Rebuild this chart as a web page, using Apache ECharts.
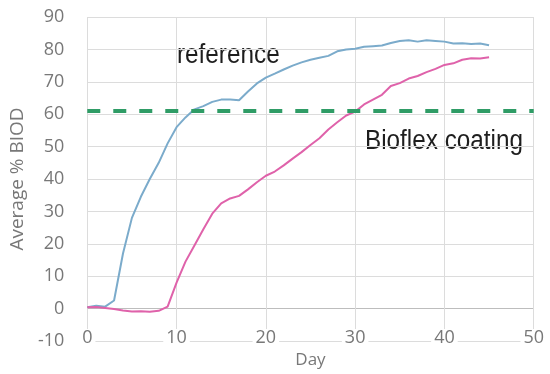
<!DOCTYPE html>
<html>
<head>
<meta charset="utf-8">
<script src="https://cdn.jsdelivr.net/npm/echarts@6/dist/echarts.min.js"></script>
<style>
  html, body { margin: 0; padding: 0; background: #fff; }
  #chart { width: 550px; height: 374px; }
</style>
</head>
<body>
<div id="chart"></div>
<script>
// sample days (x)
const days = [0, 1, 2, 3, 4, 5, 6, 7, 8, 9, 10, 11, 12, 13, 14, 15, 16, 17, 18, 19, 20, 21, 22,
  23, 24, 25, 26, 27, 28, 29, 30, 31, 32, 33, 34, 35, 36, 37, 38, 39, 40, 41, 42, 43, 44, 45]

// Average % BIOD
const referenceValues = [0.4, 0.9, 0.6, 2.5, 17, 28, 34.5, 40, 45, 51, 56, 59, 61.5, 62.5, 63.8,
  64.5, 64.5, 64.3, 67, 69.5, 71.3, 72.5, 73.8, 75, 76, 76.8, 77.4, 78, 79.4, 80, 80.2, 80.8, 81,
  81.2, 82, 82.6, 82.8, 82.4, 82.8, 82.6, 82.4, 81.8, 81.9, 81.7, 81.8, 81.3]
const bioflexValues = [0.4, 0.5, 0.2, -0.1, -0.6, -0.9, -0.8, -1.0, -0.7, 0.6, 8, 14.5, 19.5,
  24.5, 29.3, 32.5, 34, 34.8, 36.8, 39, 41, 42.3, 44.2, 46.3, 48.3, 50.5, 52.6, 55.3, 57.5, 59.6,
  60.8, 63, 64.5, 66, 68.7, 69.6, 71, 71.8, 73, 74, 75.2, 75.7, 76.8, 77.3, 77.2, 77.6]

const thresholdValue = 61

const xTicks = { min: 0, max: 50, interval: 10 }
const yTicks = { min: -10, max: 90, interval: 10 }

const axisFont = { fontFamily: 'Open Sans', fontSize: 18, color: '#787878' }

function pairs(xs, ys) {
  return xs.map((x, i) => [x, ys[i]])
}

const chart = echarts.init(document.getElementById('chart'))
chart.setOption({
  animation: false,
  grid: { left: 87, right: 13, top: 17, bottom: 28 },
  xAxis: {
    type: 'value',
    min: xTicks.min,
    max: xTicks.max,
    interval: xTicks.interval,
    name: 'Day',
    nameLocation: 'middle',
    nameGap: 11,
    nameTextStyle: Object.assign({}, axisFont, { fontSize: 17 }),
    axisLine: { show: false },
    axisTick: { show: false },
    axisLabel: Object.assign({ margin: -12, backgroundColor: '#fff', padding: [0, 3] }, axisFont),
    splitLine: { show: true, lineStyle: { color: '#dcdcdc', width: 1 } }
  },
  yAxis: {
    type: 'value',
    min: yTicks.min,
    max: yTicks.max,
    interval: yTicks.interval,
    name: 'Average % BIOD',
    nameLocation: 'middle',
    nameGap: 53,
    nameTextStyle: Object.assign({}, axisFont, { fontSize: 19 }),
    axisLine: { show: false },
    axisTick: { show: false },
    axisLabel: Object.assign({ margin: 23 }, axisFont),
    splitLine: {
      lineStyle: {
        // the 0 line is a bit darker
        color: ['#dcdcdc', '#bdbdbd', '#dcdcdc', '#dcdcdc', '#dcdcdc', '#dcdcdc', '#dcdcdc',
          '#dcdcdc', '#dcdcdc', '#dcdcdc', '#dcdcdc'],
        width: 1
      }
    }
  },
  series: [{
    name: 'reference',
    type: 'line',
    data: pairs(days, referenceValues),
    showSymbol: false,
    lineStyle: { color: '#7babcb', width: 2 },
    itemStyle: { color: '#7babcb' },
    z: 3
  }, {
    name: 'Bioflex coating',
    type: 'line',
    data: pairs(days, bioflexValues),
    showSymbol: false,
    lineStyle: { color: '#df62aa', width: 2 },
    itemStyle: { color: '#df62aa' },
    z: 3,
    markLine: {
      silent: true,
      symbol: 'none',
      label: { show: false },
      lineStyle: { color: '#2f9c66', width: 4, type: [13, 13] },
      data: [{ yAxis: thresholdValue }],
      z: 4
    }
  }],
  graphic: [{
    type: 'text',
    x: 177,
    y: 56,
    scaleX: 0.9,
    style: {
      text: 'reference',
      font: '27px "Liberation Sans", Arial, sans-serif',
      fill: '#1e1e1e',
      align: 'left',
      verticalAlign: 'middle'
    }
  }, {
    type: 'text',
    x: 365,
    y: 142,
    scaleX: 0.9,
    style: {
      text: 'Bioflex coating',
      font: '27px "Liberation Sans", Arial, sans-serif',
      fill: '#1e1e1e',
      align: 'left',
      verticalAlign: 'middle'
    }
  }]
})
</script>
</body>
</html>
